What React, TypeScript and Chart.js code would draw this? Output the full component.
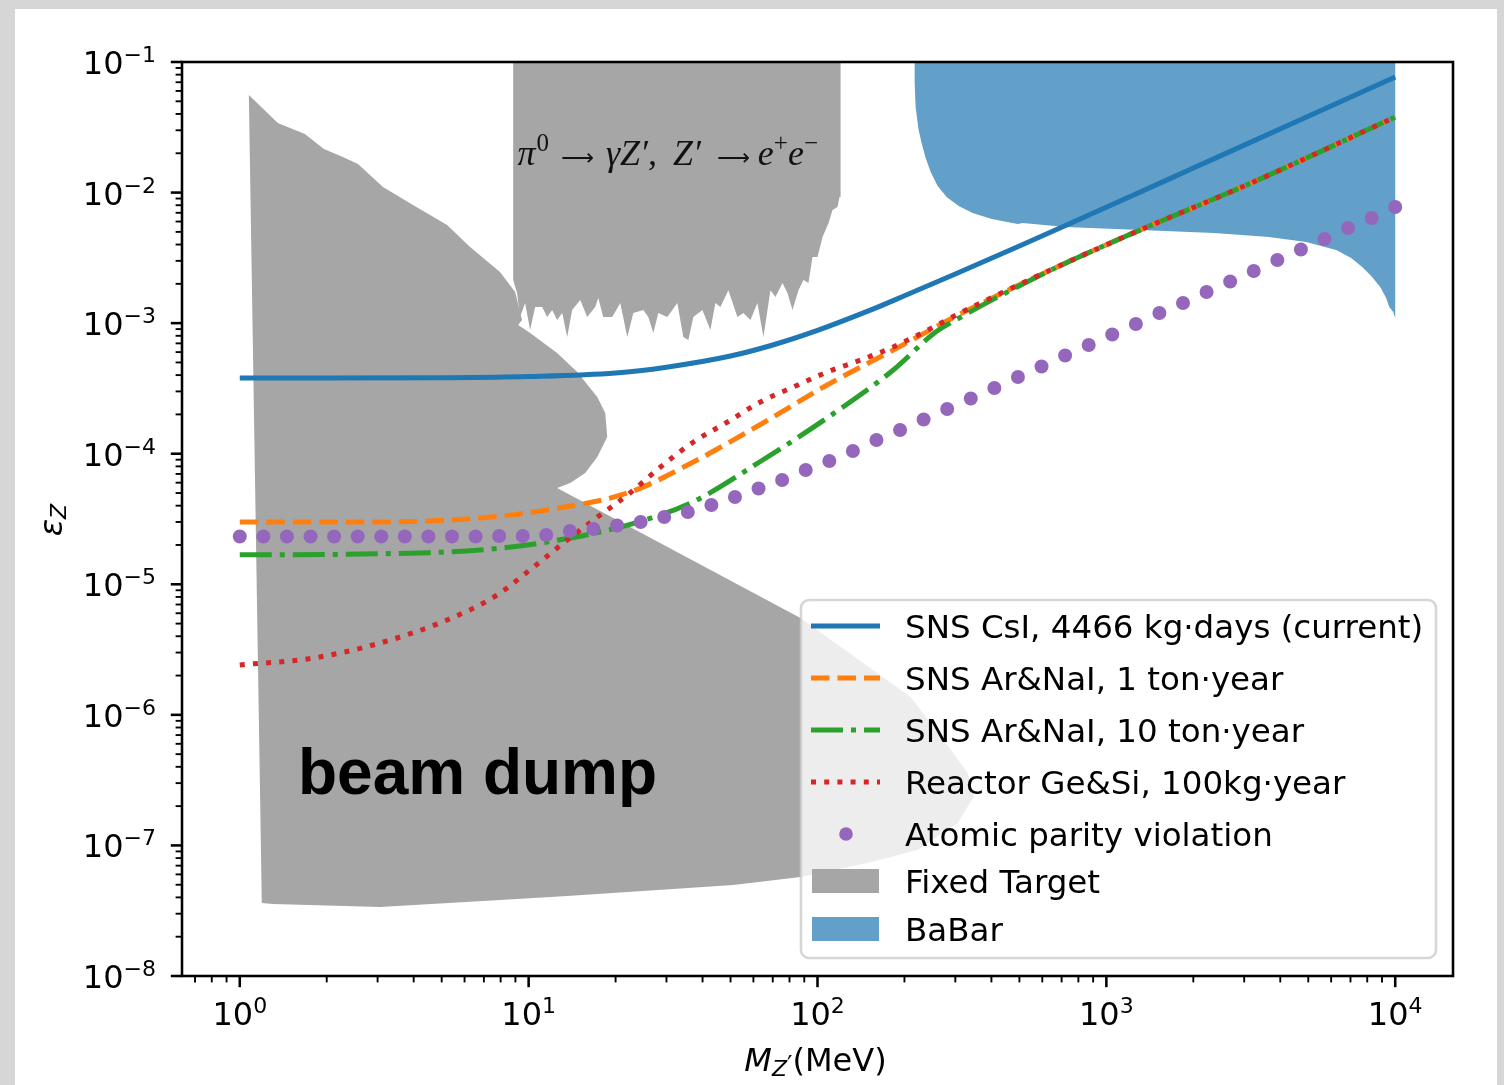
import React, { useEffect, useRef } from 'react';
import { Chart, registerables } from 'chart.js';

Chart.register(...registerables);

const W = 1504;
const H = 1085;

// ---------------- data ----------------
// SNS CsI, 4466 kg·days (current)
const csiMass = [1, 2, 5, 10, 20, 30, 50, 70, 100, 150, 200, 300, 500, 700, 1000, 2000, 5000, 10000];
const csiEps = [3.8e-4, 3.8e-4, 3.82e-4, 3.9e-4, 4.15e-4, 4.6e-4, 5.6e-4, 6.8e-4, 8.8e-4, 1.24e-3, 1.62e-3, 2.38e-3, 3.9e-3, 5.42e-3, 7.72e-3, 1.54e-2, 3.84e-2, 7.68e-2];

// SNS Ar&NaI, 1 ton·year
const ar1Mass = [1, 3, 6.8, 11.6, 22.5, 37, 63, 108, 183, 313, 724, 1307, 3169, 10000];
const ar1Eps = [3.0e-5, 3.0e-5, 3.22e-5, 3.71e-5, 5.09e-5, 8.6e-5, 1.66e-4, 3.36e-4, 6.22e-4, 1.18e-3, 2.89e-3, 5.16e-3, 1.183e-2, 3.79e-2];

// SNS Ar&NaI, 10 ton·year
const ar10Mass = [1, 3, 6.8, 11.6, 22, 37, 63, 108, 183, 254, 313, 401, 539, 724, 1307, 3169, 10000];
const ar10Eps = [1.68e-5, 1.71e-5, 1.83e-5, 2.11e-5, 2.84e-5, 4.27e-5, 8.64e-5, 1.88e-4, 4.38e-4, 8.41e-4, 1.11e-3, 1.5e-3, 2.1e-3, 2.89e-3, 5.16e-3, 1.183e-2, 3.79e-2];

// Reactor Ge&Si, 100kg·year
const geMass = [1, 1.79, 3.06, 5.22, 7.78, 10.1, 13.2, 17.3, 22, 28.6, 37.2, 48.8, 63.4, 82.6, 108, 141, 183, 241, 313, 724, 1307, 3169, 10000];
const geEps = [2.41e-6, 2.72e-6, 3.55e-6, 5.33e-6, 8.28e-6, 1.287e-5, 2.07e-5, 3.27e-5, 4.83e-5, 7.91e-5, 1.23e-4, 1.75e-4, 2.49e-4, 3.25e-4, 4.22e-4, 5.22e-4, 6.57e-4, 8.86e-4, 1.2e-3, 2.89e-3, 5.16e-3, 1.183e-2, 3.79e-2];

// Atomic parity violation (markers)
const apvMass = [1, 1.207, 1.456, 1.758, 2.121, 2.56, 3.089, 3.728, 4.498, 5.429, 6.551, 7.906, 9.541, 11.51, 13.89, 16.77, 20.24, 24.42, 29.47, 35.56, 42.92, 51.79, 62.51, 75.43, 91.03, 109.9, 132.6, 160.0, 193.1, 233.0, 281.2, 339.3, 409.5, 494.2, 596.4, 719.7, 868.5, 1048, 1265, 1526, 1842, 2223, 2683, 3237, 3907, 4715, 5690, 6866, 8286, 10000];
const apvEps = [2.322e-5, 2.322e-5, 2.322e-5, 2.322e-5, 2.322e-5, 2.322e-5, 2.322e-5, 2.322e-5, 2.322e-5, 2.322e-5, 2.322e-5, 2.343e-5, 2.343e-5, 2.384e-5, 2.558e-5, 2.65e-5, 2.819e-5, 2.999e-5, 3.276e-5, 3.577e-5, 4.047e-5, 4.661e-5, 5.414e-5, 6.291e-5, 7.502e-5, 8.793e-5, 1.0488e-4, 1.2735e-4, 1.519e-4, 1.828e-4, 2.2e-4, 2.647e-4, 3.185e-4, 3.868e-4, 4.654e-4, 5.65e-4, 6.8e-4, 8.18e-4, 9.85e-4, 1.196e-3, 1.426e-3, 1.732e-3, 2.084e-3, 2.508e-3, 3.045e-3, 3.664e-3, 4.409e-3, 5.354e-3, 6.386e-3, 7.753e-3];

// Fixed target: beam dump region outline
const bdMass = [1.075, 1.354, 1.68, 1.955, 2.275, 2.565, 3.131, 3.978, 5.22, 6.27, 7.96, 8.98, 9.49, 9.2, 10.12, 12.55, 14.73, 17.28, 18.42, 18.71, 17.28, 15.7, 13.93, 12.55, 87.3, 210.1, 273.4, 331, 347, 305.8, 222, 149, 87.3, 51.1, 13.6, 7.96, 3.057, 1.301, 1.192];
const bdEps = [0.0559, 0.0341, 0.0281, 0.02157, 0.01873, 0.01655, 0.01103, 0.00803, 0.00564, 0.00383, 0.00246, 0.00173, 0.001057, 0.000967, 0.000841, 0.000591, 0.000422, 0.000272, 0.000205, 0.000134, 9.44e-5, 7.12e-5, 5.97e-5, 5.46e-5, 5.52e-6, 1.37e-6, 6.42e-7, 3.59e-7, 2.35e-7, 1.485e-7, 9.23e-8, 7.33e-8, 5.73e-8, 4.98e-8, 4.1e-8, 3.82e-8, 3.38e-8, 3.56e-8, 3.62e-8];

// Fixed target: pi0 -> gamma Z', Z' -> e+e- region outline
const naMass = [8.84, 8.84, 9.12, 9.34, 9.72, 10.12, 10.53, 11.14, 11.59, 12.06, 12.55, 13.07, 13.6, 14.15, 15.09, 15.95, 17.0, 17.42, 18.13, 19.47, 20.76, 21.95, 23.03, 24.94, 25.96, 27.02, 28.11, 30.21, 32.71, 34.31, 35.72, 37.18, 39.95, 42.58, 44.31, 46.12, 49.14, 52.81, 55.4, 58.6, 61.94, 64.99, 68.72, 71.52, 75.63, 78.71, 81.91, 85.93, 89.43, 93.07, 96.08, 100.0, 104.1, 109.2, 112.7, 117.3, 119.2, 120.2, 120.2];
const naEps = [0.1, 0.00214, 0.0017, 0.001114, 0.001426, 0.000886, 0.001329, 0.001329, 0.001114, 0.001261, 0.001057, 0.001196, 0.000783, 0.001261, 0.001504, 0.001114, 0.001329, 0.001557, 0.001114, 0.001114, 0.001426, 0.000783, 0.001196, 0.001261, 0.001114, 0.000841, 0.001196, 0.001114, 0.001426, 0.000783, 0.000743, 0.001114, 0.001261, 0.000886, 0.001426, 0.001329, 0.00179, 0.001114, 0.001196, 0.001057, 0.001426, 0.000783, 0.00179, 0.001586, 0.00203, 0.0017, 0.001261, 0.00179, 0.00214, 0.00203, 0.00321, 0.00321, 0.00457, 0.00585, 0.00735, 0.00775, 0.00925, 0.00925, 0.1];

// BaBar region outline
const babarMass = [216.9, 216.9, 218.6, 223.9, 229.3, 236.8, 246.5, 260.6, 279.9, 308.1, 344.6, 401.0, 493.4, 513.5, 723.7, 1307, 2358, 3658, 4914, 6246, 7039, 7684, 8257, 8873, 9306, 9533, 9842, 10000, 10000];
const babarEps = [0.1, 0.07, 0.0452, 0.03014, 0.02397, 0.01839, 0.01437, 0.01123, 0.00925, 0.00789, 0.00697, 0.00627, 0.00574, 0.00585, 0.00545, 0.00517, 0.0049, 0.00457, 0.00418, 0.00363, 0.003155, 0.00269, 0.002296, 0.00189, 0.001557, 0.001329, 0.001217, 0.001095, 0.1];

// annotation anchors (data coordinates)
const beamDumpAt = [1.59, 2.48e-7];
const pionTextAt = [30.3, 0.01626];

// axes
const X_MIN = Math.pow(10, -0.2);
const X_MAX = Math.pow(10, 4.2);
const Y_MIN = 1e-8;
const Y_MAX = 1e-1;
const xTickExps = [0, 1, 2, 3, 4];
const yTickExps = [-8, -7, -6, -5, -4, -3, -2, -1];

const legendLabels = [
  'SNS CsI, 4466 kg·days (current)',
  'SNS Ar&NaI, 1 ton·year',
  'SNS Ar&NaI, 10 ton·year',
  'Reactor Ge&Si, 100kg·year',
  'Atomic parity violation',
  'Fixed Target',
  'BaBar',
];

// ---------------- styles ----------------
const C_BLUE = '#1f77b4';
const C_ORANGE = '#ff7f0e';
const C_GREEN = '#2ca02c';
const C_RED = '#d62728';
const C_PURPLE = '#9467bd';
const C_GRAY = '#a6a6a6';
const C_BABAR = '#62a0ca';
const LW = 5;
const DASH_ORANGE = [18.5, 8];
const DASH_GREEN = [32, 8, 5, 8];
const DASH_RED = [5, 8.2];
const DOT_R = 7;

const SANS = '"DejaVu Sans", "Noto Sans", sans-serif';
const SERIF = '"Liberation Serif", "DejaVu Serif", serif';

const pts = (xs: number[], ys: number[]) => {
  const n = Math.min(xs.length, ys.length);
  const out: { x: number; y: number }[] = [];
  for (let i = 0; i < n; i++) out.push({ x: xs[i], y: ys[i] });
  return out;
};

type Piece = { t?: string; font?: string; dy?: number; gap?: number };

function drawRuns(ctx: any, pieces: Piece[], x: number, y: number, align: 'left' | 'center' | 'right') {
  ctx.textAlign = 'left';
  ctx.textBaseline = 'alphabetic';
  const widths = pieces.map((p) => {
    if (p.gap !== undefined) return p.gap;
    ctx.font = p.font;
    return ctx.measureText(p.t).width;
  });
  const total = widths.reduce((a, b) => a + b, 0);
  let cx = align === 'center' ? x - total / 2 : align === 'right' ? x - total : x;
  pieces.forEach((p, i) => {
    if (p.gap === undefined) {
      ctx.font = p.font;
      ctx.fillText(p.t, cx, y + (p.dy || 0));
    }
    cx += widths[i];
  });
}

function powPieces(e: number): Piece[] {
  const exp = e < 0 ? '\u2212' + String(-e) : String(e);
  return [
    { t: '10', font: `32px ${SANS}`, dy: 0 },
    { t: exp, font: `22px ${SANS}`, dy: -12 },
  ];
}

const bgPlugin = {
  id: 'pageBg',
  beforeDraw(chart: any) {
    const ctx = chart.ctx;
    ctx.save();
    ctx.fillStyle = '#d6d6d6';
    ctx.fillRect(0, 0, W, H);
    ctx.fillStyle = '#ffffff';
    ctx.fillRect(15, 9, 1482, H - 9);
    ctx.restore();
  },
};

const decorPlugin = {
  id: 'decor',
  afterDatasetsDraw(chart: any) {
    const ctx = chart.ctx;
    const xs = chart.scales.x;
    const ys = chart.scales.y;
    const a = chart.chartArea;
    ctx.save();
    ctx.fillStyle = '#000';

    // "beam dump"
    ctx.font = `bold 64px "Liberation Sans", Arial, sans-serif`;
    ctx.textAlign = 'left';
    ctx.textBaseline = 'alphabetic';
    ctx.fillText('beam dump', xs.getPixelForValue(beamDumpAt[0]), ys.getPixelForValue(beamDumpAt[1]));

    // pi0 text
    const it = `italic 36px ${SERIF}`;
    const sup = `25px ${SERIF}`;
    ctx.font = `24px "DejaVu Sans", sans-serif`;
    const aw = ctx.measureText('⟶').width || 33;
    const arrowFont = `${(24 * 33) / aw}px "DejaVu Sans", sans-serif`;
    ctx.fillStyle = '#111';
    drawRuns(
      ctx,
      [
        { t: 'π', font: it },
        { gap: 1 },
        { t: '0', font: sup, dy: -14 },
        { gap: 12 },
        { t: '⟶', font: arrowFont },
        { gap: 12 },
        { t: 'γZ′,', font: it },
        { gap: 16 },
        { t: 'Z′', font: it },
        { gap: 16 },
        { t: '⟶', font: arrowFont },
        { gap: 8 },
        { t: 'e', font: it },
        { t: '+', font: sup, dy: -14 },
        { t: 'e', font: it },
        { t: '−', font: sup, dy: -14 },
      ],
      xs.getPixelForValue(pionTextAt[0]),
      ys.getPixelForValue(pionTextAt[1]),
      'center'
    );

    // spines
    ctx.strokeStyle = '#000';
    ctx.lineWidth = 2.56;
    ctx.setLineDash([]);
    ctx.strokeRect(a.left, a.top, a.right - a.left, a.bottom - a.top);

    // ticks
    const tick = (x1: number, y1: number, x2: number, y2: number, w: number) => {
      ctx.lineWidth = w;
      ctx.beginPath();
      ctx.moveTo(x1, y1);
      ctx.lineTo(x2, y2);
      ctx.stroke();
    };
    for (let e = -1; e <= 4; e++) {
      for (let k = 2; k <= 9; k++) {
        const v = k * Math.pow(10, e);
        if (v > X_MIN && v < X_MAX) {
          const px = xs.getPixelForValue(v);
          tick(px, a.bottom, px, a.bottom + 6.4, 1.9);
        }
      }
    }
    for (let e = -8; e <= -2; e++) {
      for (let k = 2; k <= 9; k++) {
        const v = k * Math.pow(10, e);
        if (v > Y_MIN && v < Y_MAX) {
          const py = ys.getPixelForValue(v);
          tick(a.left, py, a.left - 6.4, py, 1.9);
        }
      }
    }
    ctx.fillStyle = '#000';
    for (const e of xTickExps) {
      const px = xs.getPixelForValue(Math.pow(10, e));
      tick(px, a.bottom, px, a.bottom + 11.2, 2.56);
      drawRuns(ctx, powPieces(e), px, a.bottom + 49, 'center');
    }
    for (const e of yTickExps) {
      const py = ys.getPixelForValue(Math.pow(10, e));
      tick(a.left, py, a.left - 11.2, py, 2.56);
      drawRuns(ctx, powPieces(e), a.left - 26, py + 12, 'right');
    }

    // axis labels
    drawRuns(
      ctx,
      [
        { t: 'M', font: `italic 32px ${SANS}`, dy: 0 },
        { t: 'Z', font: `italic 22px ${SANS}`, dy: 5 },
        { t: '′', font: `24px ${SANS}`, dy: 2 },
        { t: '(MeV)', font: `32px ${SANS}`, dy: 0 },
      ],
      (a.left + a.right) / 2 - 2,
      1071,
      'center'
    );
    ctx.save();
    ctx.translate(62, (a.top + a.bottom) / 2 + 1);
    ctx.rotate(-Math.PI / 2);
    drawRuns(
      ctx,
      [
        { t: 'ε', font: `italic 32px ${SANS}`, dy: 0 },
        { t: 'Z', font: `italic 22px ${SANS}`, dy: 4 },
      ],
      0,
      0,
      'center'
    );
    ctx.restore();

    // legend
    const L = { x: 801, y: 600, w: 635, h: 358, r: 8 };
    ctx.beginPath();
    ctx.moveTo(L.x + L.r, L.y);
    ctx.arcTo(L.x + L.w, L.y, L.x + L.w, L.y + L.h, L.r);
    ctx.arcTo(L.x + L.w, L.y + L.h, L.x, L.y + L.h, L.r);
    ctx.arcTo(L.x, L.y + L.h, L.x, L.y, L.r);
    ctx.arcTo(L.x, L.y, L.x + L.w, L.y, L.r);
    ctx.closePath();
    ctx.fillStyle = 'rgba(255,255,255,0.8)';
    ctx.fill();
    ctx.strokeStyle = 'rgba(204,204,204,0.8)';
    ctx.lineWidth = 2.6;
    ctx.stroke();

    const rows = [626, 678, 730, 782, 834, 881, 929];
    const ds = chart.data.datasets;
    const lineSets = [ds[3], ds[4], ds[5], ds[6]];
    lineSets.forEach((d: any, i: number) => {
      ctx.strokeStyle = d.borderColor;
      ctx.lineWidth = d.borderWidth;
      ctx.setLineDash(d.borderDash || []);
      ctx.lineCap = 'butt';
      ctx.beginPath();
      ctx.moveTo(811, rows[i]);
      ctx.lineTo(880, rows[i]);
      ctx.stroke();
    });
    ctx.setLineDash([]);
    ctx.fillStyle = ds[7].pointBackgroundColor;
    ctx.beginPath();
    ctx.arc(846, rows[4], 6.8, 0, Math.PI * 2);
    ctx.fill();
    ctx.fillStyle = ds[0].backgroundColor;
    ctx.fillRect(812, rows[5] - 12, 67, 24);
    ctx.fillStyle = ds[2].backgroundColor;
    ctx.fillRect(812, rows[6] - 12, 67, 24);

    ctx.fillStyle = '#000';
    ctx.font = `32.5px ${SANS}`;
    ctx.textAlign = 'left';
    ctx.textBaseline = 'alphabetic';
    legendLabels.forEach((t, i) => ctx.fillText(t, 905, rows[i] + 12));

    ctx.restore();
  },
};

export default function App() {
  const ref = useRef<HTMLCanvasElement>(null);
  useEffect(() => {
    const canvas = ref.current;
    if (!canvas) return;
    const region = (label: string, xs: number[], ys: number[], color: string, order: number) => ({
      label,
      data: pts(xs, ys),
      fill: 'shape',
      backgroundColor: color,
      borderColor: 'rgba(0,0,0,0)',
      borderWidth: 0,
      borderDash: [1, 1],
      pointRadius: 0,
      tension: 0,
      order,
    });
    const curve = (label: string, xs: number[], ys: number[], color: string, dash: number[], order: number) => ({
      label,
      data: pts(xs, ys),
      fill: false,
      borderColor: color,
      backgroundColor: color,
      borderWidth: LW,
      borderDash: dash,
      borderJoinStyle: 'round',
      cubicInterpolationMode: 'monotone',
      pointRadius: 0,
      order,
    });
    const chart = new Chart(canvas, {
      type: 'line',
      data: {
        datasets: [
          region('Fixed Target', bdMass, bdEps, C_GRAY, 20) as any,
          region('Fixed Target (π0)', naMass, naEps, C_GRAY, 20) as any,
          region('BaBar', babarMass, babarEps, C_BABAR, 19) as any,
          curve(legendLabels[0], csiMass, csiEps, C_BLUE, [], 6) as any,
          curve(legendLabels[1], ar1Mass, ar1Eps, C_ORANGE, DASH_ORANGE, 5) as any,
          curve(legendLabels[2], ar10Mass, ar10Eps, C_GREEN, DASH_GREEN, 4) as any,
          curve(legendLabels[3], geMass, geEps, C_RED, DASH_RED, 3) as any,
          {
            label: legendLabels[4],
            data: pts(apvMass, apvEps),
            showLine: false,
            fill: false,
            borderColor: C_PURPLE,
            backgroundColor: C_PURPLE,
            pointBackgroundColor: C_PURPLE,
            pointBorderWidth: 0,
            pointRadius: DOT_R,
            order: 2,
          } as any,
        ],
      },
      options: {
        responsive: false,
        animation: false,
        devicePixelRatio: 1,
        events: [],
        layout: { padding: { left: 182, top: 62, right: 51, bottom: 109 } },
        scales: {
          x: {
            type: 'logarithmic',
            min: X_MIN,
            max: X_MAX,
            bounds: 'data',
            display: false,
            afterBuildTicks: (s: any) => {
              s.min = X_MIN;
              s.max = X_MAX;
            },
          },
          y: {
            type: 'logarithmic',
            min: Y_MIN,
            max: Y_MAX,
            bounds: 'data',
            display: false,
            afterBuildTicks: (s: any) => {
              s.min = Y_MIN;
              s.max = Y_MAX;
            },
          },
        },
        plugins: {
          legend: { display: false },
          tooltip: { enabled: false },
        },
      } as any,
      plugins: [bgPlugin, decorPlugin],
    });
    return () => chart.destroy();
  }, []);
  return (
    <div style={{ position: 'absolute', left: 0, top: 0, width: W, height: H, overflow: 'hidden' }}>
      <canvas ref={ref} width={W} height={H} style={{ display: 'block', width: W, height: H }} />
    </div>
  );
}
